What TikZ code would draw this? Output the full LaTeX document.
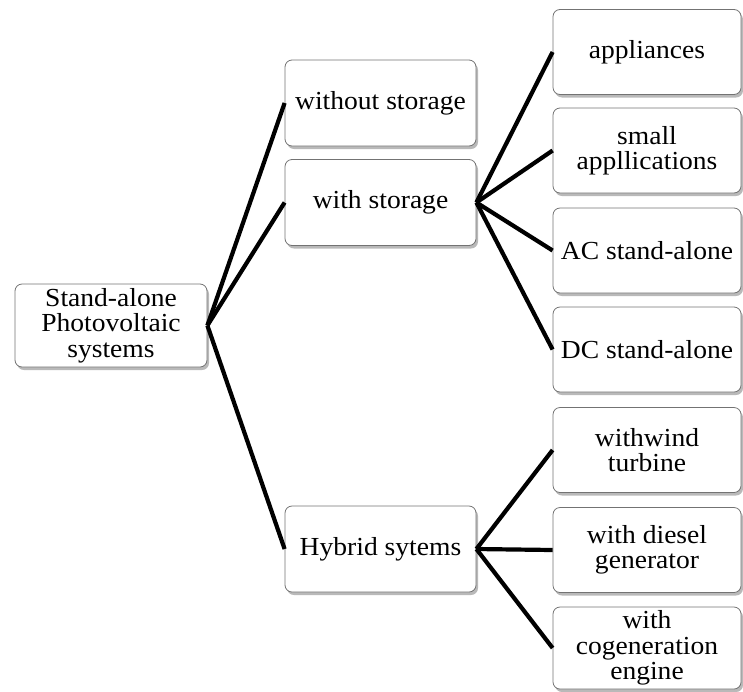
\documentclass[tikz,border=0pt]{standalone}
\usepackage{fontspec}
\setmainfont{Liberation Serif}[FakeStretch=1.06]
\usetikzlibrary{shadows}
\begin{document}
\begin{tikzpicture}[x=1pt,y=-1pt,
  box/.style={draw=black!55, line width=0.8pt, rounded corners=7pt, fill=white,
    drop shadow={shadow xshift=2pt, shadow yshift=-3pt, fill=black!50, opacity=0.55},
    inner sep=0pt, align=center, text=black,
    font=\fontsize{26pt}{25.5pt}\selectfont},
  midbox/.style={box, minimum width=191pt, minimum height=86pt},
  rbox/.style={box, minimum width=188pt, minimum height=85pt},
  link/.style={line width=4.2pt, black}]
\useasboundingbox (0,0) rectangle (743,691);
\node[box, minimum width=192pt, minimum height=83pt] (root) at (111,325.5) {Stand-alone\\Photovoltaic\\systems};
\node[midbox] (wo) at (380.5,103) {without storage};
\node[midbox] (ws) at (380.5,202.5) {with storage};
\node[midbox] (hy) at (380.5,549) {Hybrid sytems};
\node[rbox] (ap) at (647,52) {appliances};
\node[rbox] (sm) at (647,150.5) {small\\appllications};
\node[rbox] (ac) at (647,250.5) {AC stand-alone};
\node[rbox] (dc) at (647,349.5) {DC stand-alone};
\node[rbox] (wi) at (647,450) {withwind\\turbine};
\node[rbox] (di) at (647,550) {with diesel\\generator};
\node[rbox, minimum height=82pt] (co) at (647,648) {with\\cogeneration\\engine};
\draw[link] (root.east) -- (wo.west);
\draw[link] (root.east) -- (ws.west);
\draw[link] (root.east) -- (hy.west);
\draw[link] (ws.east) -- (ap.west);
\draw[link] (ws.east) -- (sm.west);
\draw[link] (ws.east) -- (ac.west);
\draw[link] (ws.east) -- (dc.west);
\draw[link] (hy.east) -- (wi.west);
\draw[link] (hy.east) -- (di.west);
\draw[link] (hy.east) -- (co.west);
\end{tikzpicture}
\end{document}
